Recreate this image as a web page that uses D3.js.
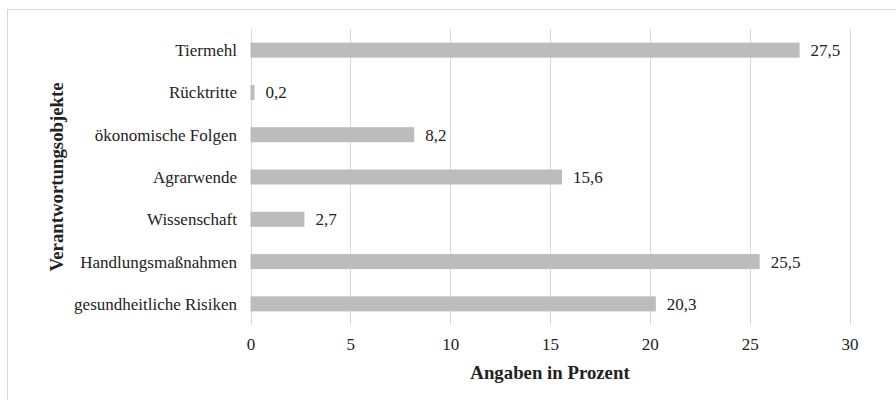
<!DOCTYPE html>
<html><head><meta charset="utf-8">
<script src="https://cdn.jsdelivr.net/npm/d3@7"></script>
<style>body{margin:0;background:#fff}svg{display:block}</style>
</head><body>
<script>
const categories = ["Tiermehl","Rücktritte","ökonomische Folgen","Agrarwende","Wissenschaft","Handlungsmaßnahmen","gesundheitliche Risiken"];
const values = [27.5,0.2,8.2,15.6,2.7,25.5,20.3];
const xTicks = [0,5,10,15,20,25,30];
const xTitle = "Angaben in Prozent";
const yTitle = "Verantwortungsobjekte";

(function(){
const W=896,H=400;
const svg=d3.select("body").append("svg").attr("width",W).attr("height",H);
svg.append("rect").attr("x",7.5).attr("y",9.5).attr("width",900).attr("height",400)
  .attr("fill","#fff").attr("stroke","#d9d9d9").attr("stroke-width",1);

const pLeft=250.5,pRight=849.5,pTop=29,pBottom=325;
const x=d3.scaleLinear().domain([0,30]).range([pLeft,pRight]);
const y=d3.scaleBand().domain(categories).range([pTop,pBottom]).paddingInner(0.645).paddingOuter(0.3225);
const font="'Liberation Serif','Times New Roman',serif";

svg.append("g").selectAll("line").data(xTicks).join("line")
  .attr("x1",d=>Math.round(x(d))+0.5).attr("x2",d=>Math.round(x(d))+0.5)
  .attr("y1",pTop).attr("y2",pBottom).attr("stroke","#d9d9d9").attr("stroke-width",1);

const ax=svg.append("g").attr("transform",`translate(0,${pBottom})`)
  .call(d3.axisBottom(x).tickValues(xTicks).tickSize(0).tickPadding(13).tickFormat(d=>d));
ax.select(".domain").remove();
ax.selectAll("text").attr("font-family",font).attr("font-size",17).attr("fill","#222");

svg.append("g").selectAll("rect").data(categories).join("rect")
  .attr("x",x(0)).attr("y",d=>y(d)).attr("height",y.bandwidth())
  .attr("width",(d,i)=>x(values[i])-x(0)).attr("fill","#bcbcbe");

svg.append("g").selectAll("text").data(categories).join("text")
  .attr("x",(d,i)=>x(values[i])+11).attr("y",d=>y(d)+y.bandwidth()/2).attr("dy","0.35em")
  .attr("font-family",font).attr("font-size",17).attr("fill","#222")
  .text((d,i)=>String(values[i]).replace(".",","));

svg.append("g").selectAll("text").data(categories).join("text")
  .attr("x",237).attr("y",d=>y(d)+y.bandwidth()/2).attr("dy","0.35em").attr("text-anchor","end")
  .attr("font-family",font).attr("font-size",17).attr("fill","#222").text(d=>d);

svg.append("text").attr("x",(pLeft+pRight)/2).attr("y",379).attr("text-anchor","middle")
  .attr("font-family",font).attr("font-size",18.8).attr("font-weight","bold").attr("fill","#222").text(xTitle);
svg.append("text").attr("transform",`translate(63,${(pTop+pBottom)/2}) rotate(-90)`).attr("text-anchor","middle")
  .attr("font-family",font).attr("font-size",18.8).attr("font-weight","bold").attr("fill","#222").text(yTitle);
})();
</script>
</body></html>
